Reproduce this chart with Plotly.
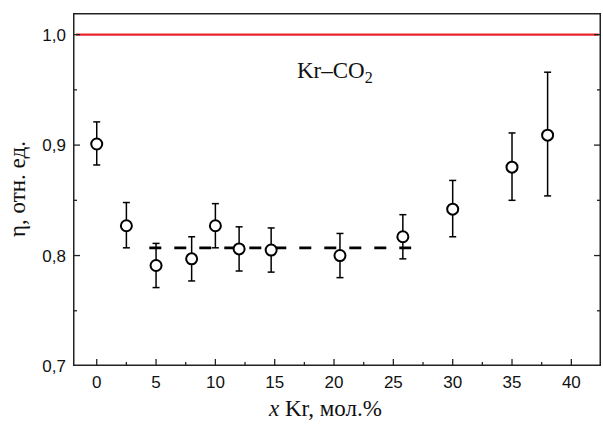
import plotly.graph_objects as go

x_kr = [0, 2.5, 5, 8, 10, 12, 14.7, 20.5, 25.8, 30, 35, 38]
eta = [0.901, 0.827, 0.791, 0.797, 0.827, 0.806, 0.805, 0.800, 0.817, 0.842, 0.880, 0.909]
err_plus = [0.020, 0.021, 0.020, 0.020, 0.020, 0.020, 0.020, 0.020, 0.020, 0.026, 0.031, 0.057]
err_minus = [0.019, 0.020, 0.020, 0.020, 0.020, 0.020, 0.020, 0.020, 0.020, 0.025, 0.030, 0.055]

mean_x = [4.43, 26.5]
mean_y = [0.807, 0.807]

ref_x = [-1.75, 42.3]
ref_y = [1.0, 1.0]

y_ticks = [0.7, 0.8, 0.9, 1.0]
y_ticktext = ["0,7", "0,8", "0,9", "1,0"]
x_ticks = [0, 5, 10, 15, 20, 25, 30, 35, 40]

x_range = [-2, 42.5]
y_range = [0.7, 1.0196]

W, H = 603, 430
M = dict(l=73, r=2, t=13, b=64)
plot_w = W - M["l"] - M["r"]
plot_h = H - M["t"] - M["b"]
ux = (x_range[1] - x_range[0]) / plot_w   # data units per pixel
uy = (y_range[1] - y_range[0]) / plot_h

fig = go.Figure()
fig.add_trace(go.Scatter(x=ref_x, y=ref_y, mode="lines",
                         line=dict(color="#e8252d", width=2.2), showlegend=False))
fig.add_trace(go.Scatter(x=mean_x, y=mean_y, mode="lines",
                         line=dict(color="black", width=2.7, dash="12px,13px"), showlegend=False))

# axis frame and inside ticks, drawn through the axes' own scales
fx = [x_range[0], x_range[1], x_range[1], x_range[0], x_range[0]]
fy = [y_range[0], y_range[0], y_range[1], y_range[1], y_range[0]]
tx, ty = [], []
x_minor = [(a + b) / 2 for a, b in zip(x_ticks[:-1], x_ticks[1:])]
y_minor = [(a + b) / 2 for a, b in zip(y_ticks[:-1], y_ticks[1:])]
for t, ln in [(v, 7) for v in x_ticks] + [(v, 4) for v in x_minor]:
    if x_range[0] < t < x_range[1]:
        tx += [t, t, None]
        ty += [y_range[0], y_range[0] + ln * uy, None]
for v, ln in [(v, 7) for v in y_ticks] + [(v, 4) for v in y_minor]:
    if y_range[0] < v < y_range[1]:
        tx += [x_range[0], x_range[0] + ln * ux, None, x_range[1], x_range[1] - ln * ux, None]
        ty += [v, v, None, v, v, None]
fig.add_trace(go.Scatter(x=tx, y=ty, mode="lines", line=dict(color="#222222", width=1.3),
                         showlegend=False, hoverinfo="skip"))
fig.add_trace(go.Scatter(x=fx, y=fy, mode="lines", line=dict(color="#222222", width=3),
                         showlegend=False, hoverinfo="skip"))

# error bars from the data arrays
cap = 3.5 * ux
ex, ey = [], []
for xv, yv, ep, em in zip(x_kr, eta, err_plus, err_minus):
    ex += [xv, xv, None, xv - cap, xv + cap, None, xv - cap, xv + cap, None]
    ey += [yv - em, yv + ep, None, yv + ep, yv + ep, None, yv - em, yv - em, None]
fig.add_trace(go.Scatter(x=ex, y=ey, mode="lines", line=dict(color="black", width=1.5),
                         showlegend=False, hoverinfo="skip"))

fig.add_trace(go.Scatter(
    x=x_kr, y=eta, mode="markers",
    marker=dict(symbol="circle", size=11, color="white", line=dict(color="black", width=2)),
    showlegend=False))

tick_font = dict(family="Liberation Sans", size=17, color="#111")

fig.update_xaxes(range=x_range, tickvals=x_ticks, ticks="", showline=False,
                 showgrid=False, zeroline=False, tickfont=tick_font, ticklabelstandoff=4)
fig.update_yaxes(range=y_range, tickvals=y_ticks, ticktext=y_ticktext, ticks="", showline=False,
                 showgrid=False, zeroline=False, tickfont=tick_font, ticklabelstandoff=6)

serif = "Liberation Serif"
fig.add_annotation(x=20.1, y=0.966, xref="x", yref="y", text="Kr–CO<sub>2</sub>",
                   showarrow=False, xanchor="center", yanchor="middle",
                   font=dict(family=serif, size=23, color="#111"))
fig.add_annotation(x=0.478, y=-0.119, xref="paper", yref="paper",
                   text="<i>x</i> Kr, мол.%", showarrow=False, xanchor="center", yanchor="middle",
                   font=dict(family=serif, size=23, color="#111"))
fig.add_annotation(x=-0.105, y=0.5, xref="paper", yref="paper", textangle=-90,
                   text="η, отн. ед.", showarrow=False, xanchor="center", yanchor="middle",
                   font=dict(family=serif, size=23, color="#111"))

fig.update_layout(width=W, height=H, margin=M,
                  plot_bgcolor="white", paper_bgcolor="white", template="none")

fig.write_html("out.html")
